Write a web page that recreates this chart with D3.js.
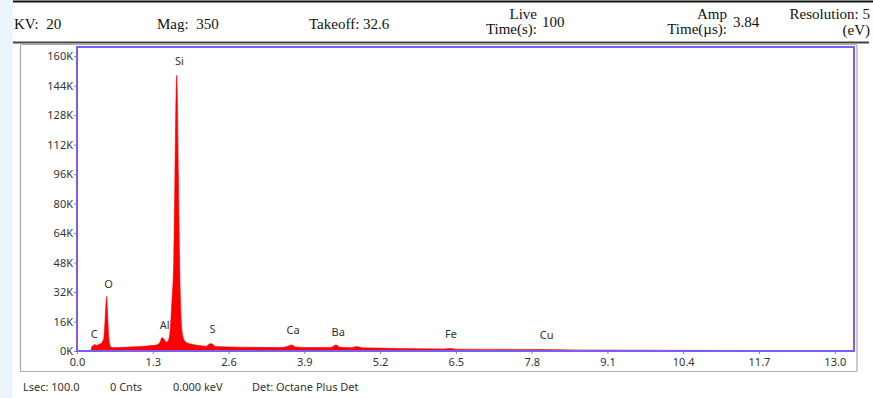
<!DOCTYPE html>
<html>
<head>
<meta charset="utf-8">
<script src="https://cdn.jsdelivr.net/npm/d3@7"></script>
<style>
body { margin: 0; background: #fff; }
.axis text { font-family: "Noto Sans", "Open Sans", sans-serif; font-size: 11px; fill: #333; }
.axis path { display: none; }
.axis line { stroke: #888; }
.hdr { font-family: "Liberation Serif", "Times New Roman", serif; font-size: 15px; fill: #111; white-space: pre; }
.stat { font-family: "Noto Sans", "Open Sans", sans-serif; font-size: 11px; fill: #333; }
.elem { font-family: "Noto Sans", "Open Sans", sans-serif; font-size: 11px; fill: #333; }
</style>
</head>
<body>
<div id="chart"></div>
<script>
// spectrum: energy (keV) / counts (K)
const energy = [0.24, 0.25, 0.28, 0.30, 0.33, 0.38, 0.43, 0.46, 0.48, 0.50, 0.51, 0.52, 0.535, 0.55, 0.58, 0.62,
    0.8, 1.0, 1.2, 1.35, 1.42, 1.46, 1.49, 1.53, 1.57, 1.60, 1.63, 1.66, 1.68, 1.70, 1.71, 1.72, 1.74, 1.76, 1.78,
    1.81, 1.86, 1.95, 2.1, 2.22, 2.28, 2.32, 2.38, 2.6, 3.0, 3.5, 3.6, 3.68, 3.75, 4.0, 4.35, 4.44, 4.52, 4.7,
    4.80, 4.9, 5.5, 6.3, 6.4, 6.5, 7.5, 8.04, 8.5, 9.5, 10.5, 12.0, 13.3];
const counts = [0, 2.0, 3.0, 3.5, 3.0, 3.6, 4.8, 7, 16, 27, 29.6, 24, 13, 6, 2.2, 1.8,
    2.0, 2.3, 2.7, 3.2, 4.5, 7.3, 6.5, 4.8, 6, 12, 28, 50, 95, 140, 149.6, 140, 95, 50, 22,
    9, 5, 3.8, 3.0, 2.6, 4.0, 3.8, 2.4, 2.2, 2.0, 1.9, 2.4, 3.3, 2.2, 1.9, 1.9, 3.3, 2.0, 1.8,
    2.4, 1.7, 1.4, 1.1, 1.4, 1.0, 0.85, 0.8, 0.6, 0.45, 0.35, 0.25, 0.15];

// element markers
const elemNames = ["C", "O", "Al", "Si", "S", "Ca", "Ba", "Fe", "Cu"];
const elemEnergy = [0.277, 0.525, 1.486, 1.740, 2.307, 3.690, 4.465, 6.398, 8.040];
const elemLabelK = [6.8, 34, 12.2, 155, 9.5, 9, 8.4, 6.8, 6.3];

const xTicks = [0.0, 1.3, 2.6, 3.9, 5.2, 6.5, 7.8, 9.1, 10.4, 11.7, 13.0];
const yTicks = [0, 16, 32, 48, 64, 80, 96, 112, 128, 144, 160];

const W = 873, H = 398;
const plot = {left: 77, right: 854, top: 47, bottom: 351};

var svg = d3.select('#chart').append('svg')
    .attr('width', W).attr('height', H);

// left light strip
svg.append('rect').attr('x', 0).attr('y', 0).attr('width', 13).attr('height', H).attr('fill', '#eaf4fb');

// header lines
svg.append('line').attr('x1', 13).attr('x2', W).attr('y1', 1.5).attr('y2', 1.5)
    .attr('stroke', '#111').attr('stroke-width', 2);
svg.append('line').attr('x1', 13).attr('x2', 869).attr('y1', 42.5).attr('y2', 42.5)
    .attr('stroke', '#444').attr('stroke-width', 2);

// header texts
function hdr(t, x, y, anchor) {
    svg.append('text').attr('class', 'hdr').attr('x', x).attr('y', y)
        .attr('text-anchor', anchor || 'start').text(t);
}
hdr('KV:  20', 14, 29);
hdr('Mag:  350', 157, 29);
hdr('Takeoff: 32.6', 309, 29);
hdr('Live', 537, 19, 'end'); hdr('Time(s):', 537, 34, 'end'); hdr('100', 542, 27);
hdr('Amp', 727, 19, 'end'); hdr('Time(\u00b5s):', 727, 34, 'end'); hdr('3.84', 733, 27);
hdr('Resolution: 5', 870, 19, 'end'); hdr('(eV)', 870, 35, 'end');

// gray panel
svg.append('rect').attr('x', 20.5).attr('y', 44.5).attr('width', 836.5).attr('height', 327)
    .attr('fill', '#fff').attr('stroke', '#aaa').attr('stroke-width', 1.2).attr('rx', 1);

var xScale = d3.scaleLinear().domain([0, 13.33]).range([plot.left, plot.right]);
var yScale = d3.scaleLinear().domain([0, 165]).range([plot.bottom, plot.top]);

svg.append('clipPath').attr('id', 'clip').append('rect')
    .attr('x', plot.left).attr('y', plot.top)
    .attr('width', plot.right - plot.left).attr('height', plot.bottom - plot.top);

var pts = energy.map(function(e, i) { return [e, counts[i]]; });
var area = d3.area()
    .x(function(d) { return xScale(d[0]); })
    .y0(yScale(0))
    .y1(function(d) { return yScale(d[1]); })
    .curve(d3.curveMonotoneX);

svg.append('path').datum(pts)
    .attr('clip-path', 'url(#clip)')
    .attr('d', area)
    .attr('fill', '#ff0000')
    .attr('stroke', '#ff0000').attr('stroke-width', 0.6);

// axes
svg.append('g').attr('class', 'axis')
    .attr('transform', 'translate(0,' + plot.bottom + ')')
    .call(d3.axisBottom(xScale).tickValues(xTicks).tickSize(3).tickPadding(4).tickFormat(d3.format('.1f')));
svg.append('g').attr('class', 'axis')
    .attr('transform', 'translate(' + plot.left + ',0)')
    .call(d3.axisLeft(yScale).tickValues(yTicks).tickSize(3).tickPadding(1).tickFormat(function(d) { return d + 'K'; }));

// plot frame
svg.append('rect').attr('x', plot.left).attr('y', plot.top)
    .attr('width', plot.right - plot.left).attr('height', plot.bottom - plot.top)
    .attr('fill', 'none').attr('stroke', '#7b5cf5').attr('stroke-width', 2);

// element labels
svg.selectAll('.elem').data(elemNames).enter().append('text')
    .attr('class', 'elem')
    .attr('x', function(d, i) { return xScale(elemEnergy[i]) + 1; })
    .attr('y', function(d, i) { return yScale(elemLabelK[i]); })
    .attr('text-anchor', 'middle')
    .text(function(d) { return d; });

// status bar
var stat = [['Lsec: 100.0', 23], ['0 Cnts', 110], ['0.000 keV', 173], ['Det: Octane Plus Det', 252]];
svg.selectAll('.stat').data(stat).enter().append('text')
    .attr('class', 'stat')
    .attr('x', function(d) { return d[1]; })
    .attr('y', 391)
    .text(function(d) { return d[0]; });
</script>
</body>
</html>
